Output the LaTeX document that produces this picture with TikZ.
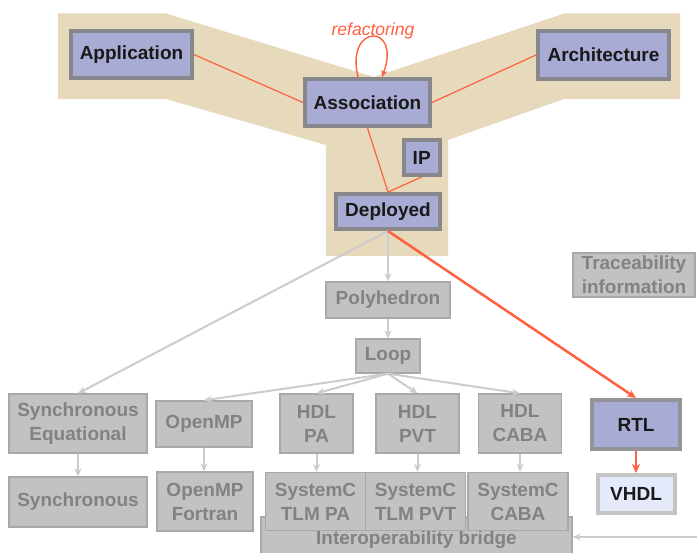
\documentclass[tikz,border=0pt]{standalone}
\usepackage{fontspec}
\setmainfont{Liberation Sans}
\usetikzlibrary{arrows.meta}
\definecolor{beige}{RGB}{231,217,187}
\definecolor{lav}{RGB}{168,172,212}
\definecolor{lavborder}{RGB}{135,135,140}
\definecolor{gfill}{RGB}{194,194,194}
\definecolor{gborder}{RGB}{168,168,168}
\definecolor{gtext}{RGB}{130,130,130}
\definecolor{garrow}{RGB}{204,204,204}
\definecolor{orng}{RGB}{255,96,64}
\definecolor{vhdlfill}{RGB}{228,234,250}
\definecolor{vhdlborder}{RGB}{196,196,196}
\tikzset{
  lbl/.style={font=\fontsize{19}{24}\selectfont\bfseries, align=center, inner sep=0pt},
  bluebox/.style={lbl, draw=lavborder, fill=lav, line width=4pt, text=black!90},
  graybox/.style={lbl, draw=gborder, fill=gfill, line width=1.3pt, text=gtext},
  olink/.style={draw=orng, line width=1.2pt},
  oarrow/.style={draw=orng, line width=2.5pt, -{Stealth[length=9pt,width=8pt]}},
  garr/.style={draw=garrow, line width=2pt, -{Stealth[length=8pt,width=7pt]}},
}
\begin{document}
\begin{tikzpicture}[x=1pt,y=-1pt]
\path[use as bounding box, fill=white] (0,0) rectangle (697,553);
% beige background
\fill[beige] (58,13.5) -- (166,13.5) -- (374,77) -- (564,13.5) -- (680,13.5) -- (680,99)
  -- (564,99) -- (448,140) -- (448,256) -- (326,256) -- (326,145) -- (166,99) -- (58,99) -- cycle;

% top nodes
\node[bluebox, minimum width=121.6, minimum height=46.7] (app) at (131.5,54.7) {Application};
\node[bluebox, minimum width=125, minimum height=47] (assoc) at (367.5,102.5) {Association};
\node[bluebox, minimum width=131, minimum height=48] (arch) at (603.5,55) {Architecture};
\node[bluebox, minimum width=36, minimum height=35] (ip) at (421.7,157.5) {IP};
\node[bluebox, minimum width=104, minimum height=35] (dep) at (388,211.5) {Deployed};

% orange links
\draw[olink] (app.east) -- (assoc.west);
\draw[olink] (arch.west) -- (assoc.east);
\draw[olink] (assoc.south) -- (dep.north);
\draw[olink] (ip.south) -- (dep.north);
\coordinate (loopA) at (358,77);
\coordinate (loopB) at (382,77);
\draw[draw=orng, line width=1.4pt, -{Stealth[length=7pt,width=6pt]}] (loopA) .. controls (345,23) and (402,23) .. (loopB);
\node[font=\fontsize{17.5}{20}\selectfont\itshape, text=orng, inner sep=0pt] (refac) at (373,31) {refactoring};

% gray nodes
\node[graybox, minimum width=124, minimum height=36] (poly) at (388,300) {Polyhedron};
\node[graybox, minimum width=64, minimum height=34] (loop) at (388,356) {Loop};
\node[graybox, minimum width=122, minimum height=44] (trace) at (634,275) {Traceability\\information};
\node[graybox, minimum width=138, minimum height=59] (synceq) at (78,423.5) {Synchronous\\Equational};
\node[graybox, minimum width=96, minimum height=46] (omp) at (204,424) {OpenMP};
\node[graybox, minimum width=73, minimum height=59] (hdlpa) at (316.5,423.5) {HDL\\PA};
\node[graybox, minimum width=83, minimum height=59] (hdlpvt) at (417.5,423.5) {HDL\\PVT};
\node[graybox, minimum width=83, minimum height=59] (hdlcaba) at (520,423.5) {HDL\\CABA};
\node[graybox, minimum width=138, minimum height=50] (sync) at (78,502) {Synchronous};
\node[graybox, minimum width=96, minimum height=59] (ompf) at (205,501.5) {OpenMP\\Fortran};
\node[graybox, minimum width=311, minimum height=50, anchor=north, text depth=0pt] (bridge) at (416.5,516.5) {};
\node[lbl, text=gtext] (bridgelbl) at (416.5,539.5) {Interoperability bridge};
\node[graybox, minimum width=100, minimum height=58] (scpa) at (315.5,501.5) {SystemC\\TLM PA};
\node[graybox, minimum width=100, minimum height=58] (scpvt) at (415.5,501.5) {SystemC\\TLM PVT};
\node[graybox, minimum width=100, minimum height=58] (sccaba) at (518,501.5) {SystemC\\CABA};

% RTL / VHDL
\node[bluebox, draw=lavborder!90, minimum width=88, minimum height=49] (rtl) at (636,424.5) {RTL};
\node[bluebox, draw=vhdlborder, fill=vhdlfill, minimum width=77, minimum height=38] (vhdl) at (636,494) {VHDL};

% gray arrows
\draw[garr] (dep.south) -- (poly.north);
\draw[garr] (poly.south) -- (loop.north);
\draw[garr] (dep.south) -- (synceq.north);
\draw[garr] (loop.south) -- (omp.north);
\draw[garr] (loop.south) -- (hdlpa.north);
\draw[garr] (loop.south) -- (hdlpvt.north);
\draw[garr] (loop.south) -- (hdlcaba.north);
\draw[garr] (synceq.south) -- (sync.north);
\draw[garr] (omp.south) -- (omp.south |- ompf.north);
\draw[garr] (hdlpa.south) -- (hdlpa.south |- scpa.north);
\draw[garr] (hdlpvt.south) -- (hdlpvt.south |- scpvt.north);
\draw[garr] (hdlcaba.south) -- (hdlcaba.south |- sccaba.north);
\coordinate (rightin) at (697,537);
\draw[garr] (rightin) -- (bridge.east |- rightin);

% orange arrows
\draw[oarrow] (dep.south) -- (rtl.north);
\draw[oarrow] (rtl.south) -- (vhdl.north);
\end{tikzpicture}
\end{document}
